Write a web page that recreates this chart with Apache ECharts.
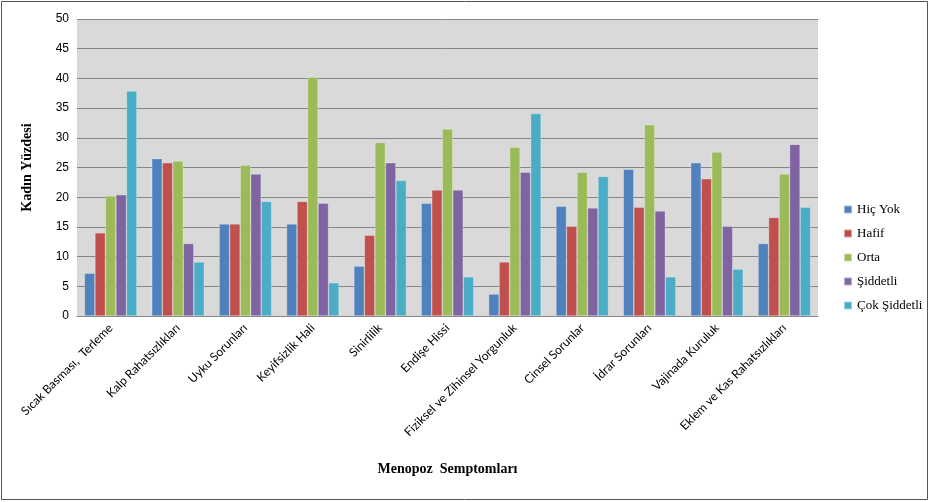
<!DOCTYPE html>
<html>
<head>
<meta charset="utf-8">
<script src="https://cdn.jsdelivr.net/npm/echarts@6/dist/echarts.min.js"></script>
<style>
  html, body { margin: 0; padding: 0; background: #fff; }
  #chart { width: 930px; height: 502px; }
</style>
</head>
<body>
<div id="chart"></div>
<script>
const categories = [
  "Sıcak Basması,  Terleme",
  "Kalp Rahatsızlıkları",
  "Uyku Sorunları",
  "Keyifsizlik Hali",
  "Sinirlilik",
  "Endişe Hissi",
  "Fiziksel ve Zihinsel Yorgunluk",
  "Cinsel Sorunlar",
  "İdrar Sorunları",
  "Vajinada Kuruluk",
  "Eklem ve Kas Rahatsızlıkları"
];

const hicYok = [7.2, 26.5, 15.5, 15.5, 8.4, 19.0, 3.7, 18.5, 24.7, 25.8, 12.2];
const hafif = [14.0, 25.8, 15.5, 19.3, 13.6, 21.2, 9.1, 15.1, 18.3, 23.1, 16.6];
const orta = [20.2, 26.1, 25.4, 40.2, 29.2, 31.5, 28.4, 24.2, 32.2, 27.6, 23.9];
const siddetli = [20.4, 12.2, 23.9, 19.0, 25.8, 21.2, 24.2, 18.2, 17.7, 15.1, 28.9];
const cokSiddetli = [37.9, 9.1, 19.3, 5.6, 22.8, 6.6, 34.1, 23.5, 6.6, 7.9, 18.3];

const seriesNames = ["Hiç Yok", "Hafif", "Orta", "Şiddetli", "Çok Şiddetli"];
const seriesData = [hicYok, hafif, orta, siddetli, cokSiddetli];
const colors = ["#4f81bd", "#c0504d", "#9bbb59", "#8064a2", "#4bacc6"];

const chart = echarts.init(document.getElementById("chart"));

chart.setOption({
  animation: false,
  color: colors,
  graphic: [{
    type: "rect",
    shape: { x: 1.5, y: 1.5, width: 926, height: 498 },
    style: { fill: "none", stroke: "#555", lineWidth: 1 },
    silent: true
  }],
  grid: {
    left: 77,
    right: 112,
    top: 19,
    bottom: 186,
    show: true,
    backgroundColor: "#d9d9d9",
    borderWidth: 0
  },
  legend: {
    orient: "vertical",
    left: 838,
    top: 198,
    itemWidth: 8,
    itemHeight: 8,
    itemGap: 11,
    icon: "rect",
    textStyle: { fontFamily: "Liberation Serif", fontSize: 13, color: "#000" },
    data: seriesNames
  },
  xAxis: {
    type: "category",
    data: categories,
    name: "Menopoz  Semptomları",
    nameLocation: "middle",
    nameGap: 146,
    nameTextStyle: { fontFamily: "Liberation Serif", fontWeight: "bold", fontSize: 14, color: "#000" },
    axisLine: { lineStyle: { color: "#868686" } },
    axisTick: { show: false },
    axisLabel: {
      rotate: 45,
      interval: 0,
      margin: 10,
      fontFamily: "Lato",
      fontSize: 12,
      color: "#000"
    }
  },
  yAxis: {
    type: "value",
    min: 0,
    max: 50,
    interval: 5,
    name: "Kadın Yüzdesi",
    nameLocation: "middle",
    nameGap: 43,
    nameTextStyle: { fontFamily: "Liberation Serif", fontWeight: "bold", fontSize: 14, color: "#000" },
    axisLine: { show: false },
    axisTick: { show: false },
    axisLabel: { fontFamily: "Liberation Sans", fontSize: 12, color: "#000", margin: 8 },
    splitLine: { lineStyle: { color: "#868686", width: 1 } }
  },
  series: seriesNames.map((name, i) => ({
    name: name,
    type: "bar",
    data: seriesData[i],
    barGap: "0%",
    barCategoryGap: "22%",
    itemStyle: { borderColor: "rgba(255,255,255,0.45)", borderWidth: 0.6 }
  }))
});
</script>
</body>
</html>
